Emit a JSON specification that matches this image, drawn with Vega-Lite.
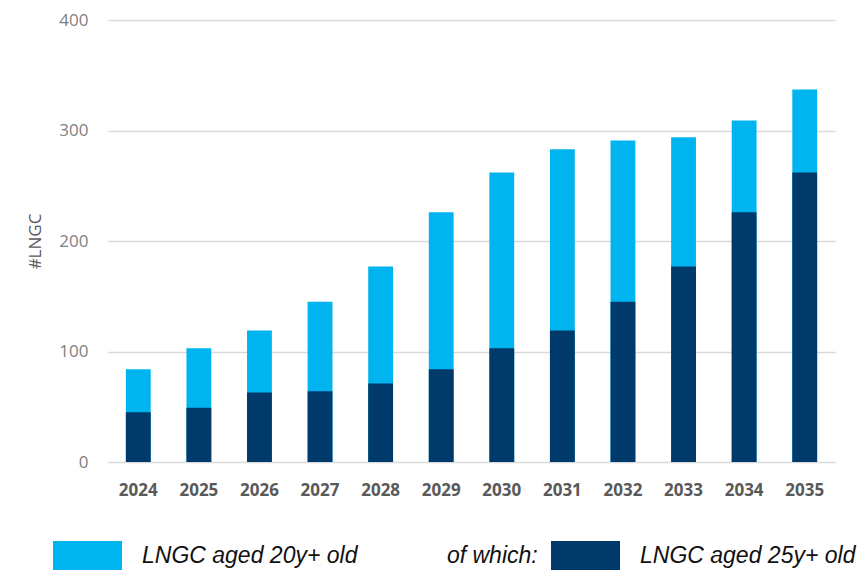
{
  "$schema": "https://vega.github.io/schema/vega-lite/v6.json",
  "width": 727,
  "height": 442,
  "autosize": "none",
  "padding": {"left": 108, "top": 20, "right": 33, "bottom": 108},
  "background": "white",
  "config": {"view": {"stroke": null}},
  "data": {
    "values": [
      {"year": "2024", "series": "LNGC aged 20y+ old", "value": 84},
      {"year": "2024", "series": "LNGC aged 25y+ old", "value": 45},
      {"year": "2025", "series": "LNGC aged 20y+ old", "value": 103},
      {"year": "2025", "series": "LNGC aged 25y+ old", "value": 49},
      {"year": "2026", "series": "LNGC aged 20y+ old", "value": 119},
      {"year": "2026", "series": "LNGC aged 25y+ old", "value": 63},
      {"year": "2027", "series": "LNGC aged 20y+ old", "value": 145},
      {"year": "2027", "series": "LNGC aged 25y+ old", "value": 64},
      {"year": "2028", "series": "LNGC aged 20y+ old", "value": 177},
      {"year": "2028", "series": "LNGC aged 25y+ old", "value": 71},
      {"year": "2029", "series": "LNGC aged 20y+ old", "value": 226},
      {"year": "2029", "series": "LNGC aged 25y+ old", "value": 84},
      {"year": "2030", "series": "LNGC aged 20y+ old", "value": 262},
      {"year": "2030", "series": "LNGC aged 25y+ old", "value": 103},
      {"year": "2031", "series": "LNGC aged 20y+ old", "value": 283},
      {"year": "2031", "series": "LNGC aged 25y+ old", "value": 119},
      {"year": "2032", "series": "LNGC aged 20y+ old", "value": 291},
      {"year": "2032", "series": "LNGC aged 25y+ old", "value": 145},
      {"year": "2033", "series": "LNGC aged 20y+ old", "value": 294},
      {"year": "2033", "series": "LNGC aged 25y+ old", "value": 177},
      {"year": "2034", "series": "LNGC aged 20y+ old", "value": 309},
      {"year": "2034", "series": "LNGC aged 25y+ old", "value": 226},
      {"year": "2035", "series": "LNGC aged 20y+ old", "value": 337},
      {"year": "2035", "series": "LNGC aged 25y+ old", "value": 262}
    ]
  },
  "mark": {"type": "bar"},
  "encoding": {
    "x": {
      "field": "year",
      "type": "ordinal",
      "scale": {"paddingInner": 0.59, "paddingOuter": 0.295},
      "axis": {
        "title": null,
        "domain": false,
        "ticks": false,
        "labelAngle": 0,
        "labelFont": "Open Sans",
        "labelFontWeight": "bold",
        "labelFontSize": 17,
        "labelColor": "#595959",
        "labelPadding": 20
      }
    },
    "y": {
      "field": "value",
      "type": "quantitative",
      "stack": null,
      "scale": {"domain": [0, 400], "nice": false},
      "axis": {
        "title": "#LNGC",
        "titleFont": "Open Sans",
        "titleFontWeight": "normal",
        "titleFontSize": 17,
        "titleColor": "#595959",
        "titlePadding": 14,
        "values": [0, 100, 200, 300, 400],
        "domain": false,
        "ticks": false,
        "labelFont": "Open Sans",
        "labelFontSize": 17,
        "labelColor": "#7f7f7f",
        "labelPadding": 20,
        "grid": true,
        "gridColor": "#d9d9d9",
        "gridWidth": 1.5
      }
    },
    "color": {
      "field": "series",
      "type": "nominal",
      "scale": {
        "domain": ["LNGC aged 20y+ old", "LNGC aged 25y+ old"],
        "range": ["#00b5ef", "#003a6b"]
      },
      "legend": {
        "title": null,
        "orient": "none",
        "legendX": -55,
        "legendY": 501,
        "direction": "horizontal",
        "padding": 0,
        "symbolType": "M-1,-0.42H1V0.42H-1Z",
        "symbolSize": 4761,
        "symbolStrokeWidth": 0,
        "labelOffset": 20,
        "columnPadding": 13,
        "labelFont": "Liberation Sans",
        "labelFontStyle": "italic",
        "labelFontSize": 23,
        "labelColor": "#111111",
        "labelLimit": 0,
        "labelExpr": "datum.label === 'LNGC aged 20y+ old' ? 'LNGC aged 20y+ old\u00a0\u00a0\u00a0\u00a0\u00a0\u00a0\u00a0\u00a0\u00a0\u00a0\u00a0\u00a0\u00a0\u00a0of which:' : datum.label"
      }
    },
    "order": {"field": "series", "sort": "ascending"}
  }
}
